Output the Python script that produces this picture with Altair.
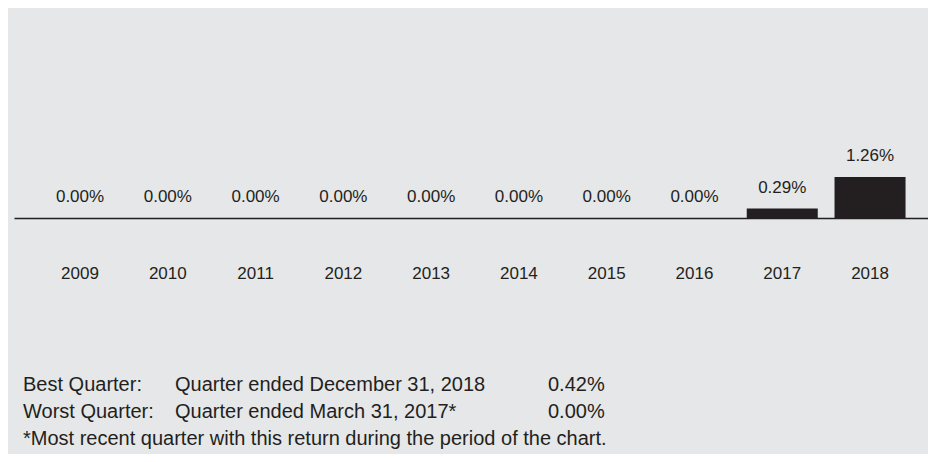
import altair as alt
import pandas as pd

# ---- data ----
years = ["2009", "2010", "2011", "2012", "2013", "2014", "2015", "2016", "2017", "2018"]
returns = [0.00, 0.00, 0.00, 0.00, 0.00, 0.00, 0.00, 0.00, 0.29, 1.26]
value_labels = ["0.00%", "0.00%", "0.00%", "0.00%", "0.00%", "0.00%", "0.00%", "0.00%", "0.29%", "1.26%"]

quarter_kinds = ["Best Quarter:", "Worst Quarter:"]
quarter_desc = ["Quarter ended December 31, 2018", "Quarter ended March 31, 2017*"]
quarter_pct = ["0.42%", "0.00%"]
footnote = ["*Most recent quarter with this return during the period of the chart."]

# ---- style ----
INK = "#231f20"
BG = "#e6e7e8"
FONT = "Liberation Sans, Arial, Helvetica, sans-serif"
LABEL_SIZE = 17
NOTE_SIZE = 20

df = pd.DataFrame({"year": years, "ret": returns, "label": value_labels})

x = alt.X(
    "year:N",
    sort=years,
    scale=alt.Scale(paddingInner=0.191, paddingOuter=0.3017, align=0.576),
    axis=alt.Axis(
        title=None,
        labelAngle=0,
        ticks=False,
        grid=False,
        domainColor=INK,
        domainWidth=1.5,
        labelBaseline="alphabetic",
        labelPadding=60,
        labelFont=FONT,
        labelFontSize=LABEL_SIZE,
        labelColor=INK,
    ),
)
y = alt.Y("ret:Q", scale=alt.Scale(domain=[0, 6.46], nice=False, zero=True), axis=None)

base = alt.Chart(df)
bars = base.mark_bar(color=INK).encode(x=x, y=y)
vals = base.mark_text(
    font=FONT, fontSize=LABEL_SIZE, color=INK, baseline="alphabetic", dy=-16
).encode(x=x, y=y, text="label:N")


def note(texts, xpos, ypos):
    d = pd.DataFrame({"t": texts})
    return alt.Chart(d).mark_text(
        font=FONT, fontSize=NOTE_SIZE, color=INK, align="left", baseline="alphabetic"
    ).encode(x=alt.value(xpos), y=alt.value(ypos), text="t:N")


row_y = [383, 410]
layers = [bars, vals]
for i in range(2):
    layers.append(note([quarter_kinds[i]], 9, row_y[i]))
    layers.append(note([quarter_desc[i]], 161, row_y[i]))
    layers.append(note([quarter_pct[i]], 534, row_y[i]))
layers.append(note(footnote, 9, 437))

chart = (
    alt.layer(*layers)
    .properties(
        width=914,
        height=210,
        autosize=alt.AutoSizeParams(type="none"),
        padding={"left": 6, "top": 0, "right": 0, "bottom": 236},
        background=BG,
    )
    .configure_view(strokeWidth=0)
)

chart.save("out.html", embed_options={"renderer": "svg", "actions": False})
